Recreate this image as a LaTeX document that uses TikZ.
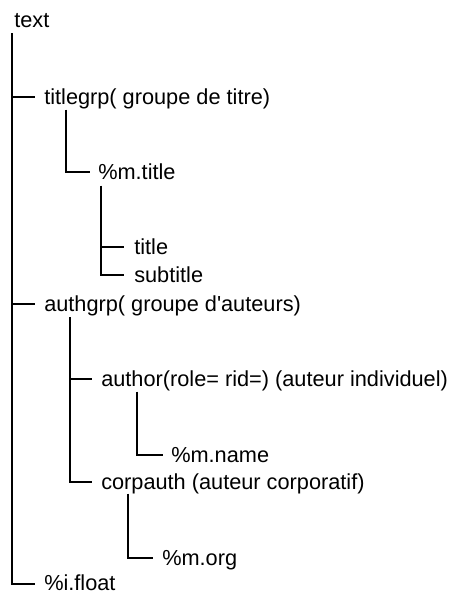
\documentclass[tikz,border=0pt]{standalone}
\usepackage{fontspec}
\setmainfont{Liberation Sans}[Ligatures=TeXOff]
\begin{document}
\begin{tikzpicture}[x=0.75pt,y=-0.75pt,
  lbl/.style={anchor=west,inner sep=0pt,text height=14.25pt,text depth=3.75pt,
    font=\fontsize{16.3}{19}\selectfont},
  conn/.style={line width=1.5pt}]
\useasboundingbox (0,0) rectangle (449,592);
\node[lbl] (root) at (14,21) {text};
\node[lbl] (titlegrp) at (44,97.3) {titlegrp( groupe de titre)};
\node[lbl] (mtitle) at (98,172.3) {\%m.title};
\node[lbl] (title) at (134,247.3) {title};
\node[lbl] (subtitle) at (134,275.3) {subtitle};
\node[lbl] (authgrp) at (44,304) {authgrp( groupe d'auteurs)};
\node[lbl] (author) at (101,379.3) {author(role= rid=) (auteur individuel)};
\node[lbl] (mname) at (171,455) {\%m.name};
\node[lbl] (corpauth) at (101,482.3) {corpauth (auteur corporatif)};
\node[lbl] (morg) at (162,558.3) {\%m.org};
\node[lbl,text height=10.5pt,text depth=0pt] (ifloat) at (44,583.5) {\%i.float};
% main trunk
\draw[conn] (root.south west) ++(-2,0) coordinate (m) |- ([xshift=-6.75pt]ifloat.west);
\draw[conn] (m |- titlegrp.west) -- ([xshift=-6.75pt]titlegrp.west);
\draw[conn] (m |- authgrp.west) -- ([xshift=-6.75pt]authgrp.west);
% titlegrp
\draw[conn] (titlegrp.south west) ++(22,0) |- ([xshift=-6pt]mtitle.west);
% mtitle
\draw[conn] (mtitle.south west) ++(3,1) coordinate (v1) |- ([xshift=-7.5pt]subtitle.west);
\draw[conn] (v1 |- title.west) -- ([xshift=-7.5pt]title.west);
% authgrp
\draw[conn] (authgrp.south west) ++(26,1) coordinate (v2) |- ([xshift=-6.75pt]corpauth.west);
\draw[conn] (v2 |- author.west) -- ([xshift=-6.75pt]author.west);
% author
\draw[conn] (author.south west) ++(36,0) |- ([xshift=-6pt]mname.west);
% corpauth
\draw[conn] (corpauth.south west) ++(27,-1) |- ([xshift=-6.75pt]morg.west);
\end{tikzpicture}
\end{document}
